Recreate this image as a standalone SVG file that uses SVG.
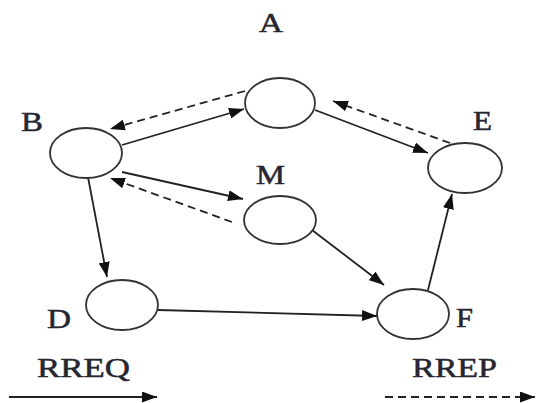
<svg xmlns="http://www.w3.org/2000/svg" width="536" height="403" viewBox="0 0 536 403">
<style>
.n{fill:#fff;stroke:#333;stroke-width:1.8}
.t{font-family:"Liberation Serif","Times New Roman",serif;font-size:27px;fill:#262630;stroke:#262630;stroke-width:0.5}
.c{fill:none;stroke:#222;stroke-width:1.8}
.d{stroke-dasharray:8 5}
</style>
<defs>
<marker id="ah" viewBox="0 0 15 11" refX="15" refY="5.5" markerWidth="15" markerHeight="11" markerUnits="userSpaceOnUse" orient="auto">
<path d="M0,0 L15,5.5 L0,11 z" fill="#111"/>
</marker>
</defs>
<rect width="536" height="403" fill="#fff"/>
<g id="connectors">
<line class="c" x1="122" y1="145" x2="244" y2="109" marker-end="url(#ah)"/>
<line class="c d" x1="245" y1="91" x2="110" y2="129" marker-end="url(#ah)"/>
<line class="c" x1="315" y1="110" x2="428" y2="153" marker-end="url(#ah)"/>
<line class="c d" x1="450" y1="143" x2="333" y2="101" marker-end="url(#ah)"/>
<line class="c" x1="122" y1="172" x2="243" y2="199" marker-end="url(#ah)"/>
<line class="c d" x1="232" y1="222" x2="110" y2="178" marker-end="url(#ah)"/>
<line class="c" x1="87" y1="172" x2="107" y2="277" marker-end="url(#ah)"/>
<line class="c" x1="312" y1="230" x2="384" y2="285" marker-end="url(#ah)"/>
<line class="c" x1="158" y1="310" x2="377" y2="316" marker-end="url(#ah)"/>
<line class="c" x1="428" y1="290" x2="452" y2="194" marker-end="url(#ah)"/>
<line class="c" x1="9" y1="397" x2="157" y2="397" marker-end="url(#ah)"/>
<line class="c d" x1="385" y1="397" x2="535" y2="397" marker-end="url(#ah)"/>
</g>
<g id="A"><ellipse class="n" cx="280" cy="103" rx="35" ry="25"/><text class="t" x="259" y="32" textLength="24" lengthAdjust="spacingAndGlyphs">A</text></g>
<g id="B"><ellipse class="n" cx="86" cy="153" rx="36" ry="25"/><text class="t" x="21" y="131" textLength="22" lengthAdjust="spacingAndGlyphs">B</text></g>
<g id="E"><ellipse class="n" cx="465" cy="168" rx="37" ry="25"/><text class="t" x="473" y="130" textLength="19" lengthAdjust="spacingAndGlyphs">E</text></g>
<g id="M"><ellipse class="n" cx="280" cy="220" rx="36" ry="24"/><text class="t" x="256" y="184" textLength="29" lengthAdjust="spacingAndGlyphs">M</text></g>
<g id="D"><ellipse class="n" cx="122" cy="305" rx="36" ry="25"/><text class="t" x="47" y="328" textLength="24" lengthAdjust="spacingAndGlyphs">D</text></g>
<g id="F"><ellipse class="n" cx="413" cy="314" rx="36" ry="25"/><text class="t" x="456" y="327" textLength="17" lengthAdjust="spacingAndGlyphs">F</text></g>
<g id="legend">
<text class="t" x="37" y="377" textLength="93" lengthAdjust="spacingAndGlyphs">RREQ</text>
<text class="t" x="412" y="377" textLength="85" lengthAdjust="spacingAndGlyphs">RREP</text>
</g>
</svg>
